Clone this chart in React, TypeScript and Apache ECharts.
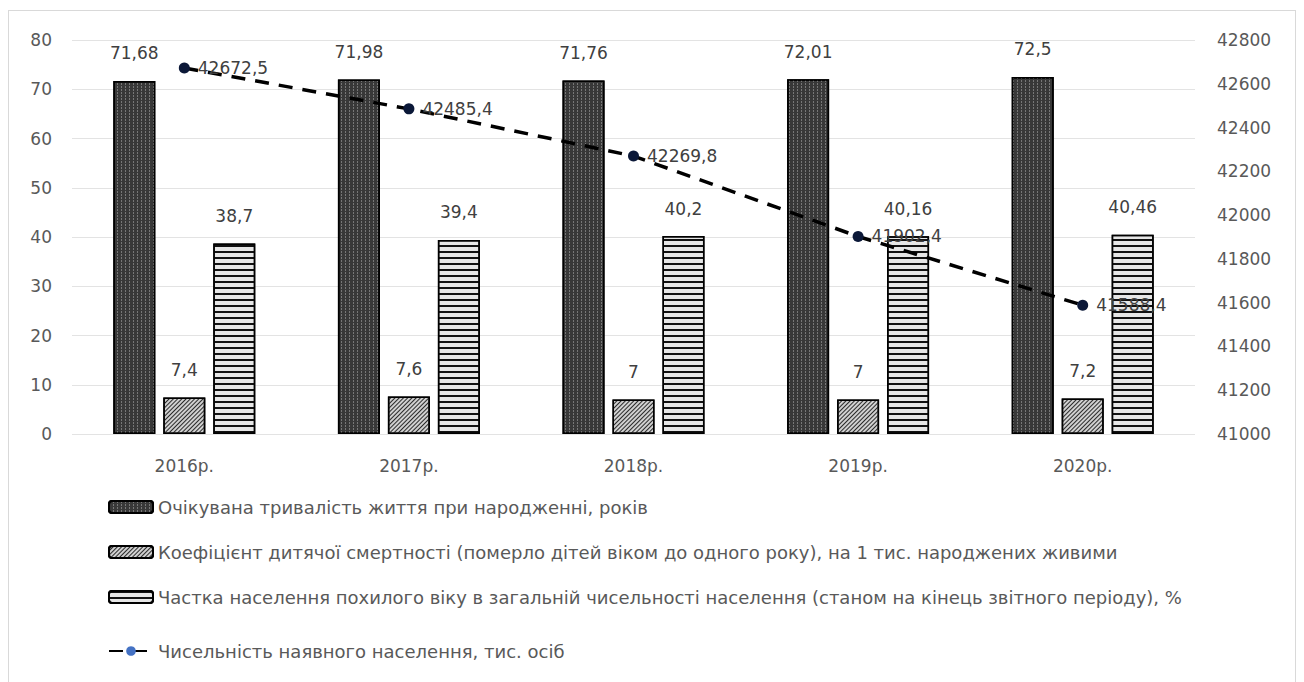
import React, { useEffect, useRef } from "react";
import * as echarts from "echarts";

const years = ["2016р.", "2017р.", "2018р.", "2019р.", "2020р."];
const lifeExpectancy = [71.68, 71.98, 71.76, 72.01, 72.5];
const infantMortality = [7.4, 7.6, 7, 7, 7.2];
const elderlyShare = [38.7, 39.4, 40.2, 40.16, 40.46];
const population = [42672.5, 42485.4, 42269.8, 41902.4, 41588.4];

const names = [
  "Очікувана тривалість життя при народженні, років",
  "Коефіцієнт дитячої смертності (померло дітей віком до одного року), на 1 тис. народжених живими",
  "Частка населення похилого віку в загальній чисельності населення (станом на кінець звітного періоду), %",
  "Чисельність наявного населення, тис. осіб",
];

const FONT = "DejaVu Sans";
const fmt = (v: number) => String(v).replace(".", ",");

export default function App() {
  const ref = useRef<HTMLDivElement>(null);

  useEffect(() => {
    if (!ref.current) return;
    const chart = echarts.init(ref.current, undefined, { renderer: "svg" });

    const barLabel = {
      show: true,
      position: "top" as const,
      distance: 19,
      color: "#404040",
      fontSize: 17,
      fontFamily: FONT,
      formatter: (p: any) => fmt(p.value),
    };

    const legendText = { color: "#595959", fontSize: 18, fontFamily: FONT, lineHeight: 18 };

    chart.setOption({
      animation: false,
      backgroundColor: "#fff",
      textStyle: { fontFamily: FONT },
      grid: { left: 63, right: 100, top: 29, height: 394 },
      legend: [
        {
          data: names.slice(0, 3),
          orient: "vertical",
          left: 99,
          top: 487,
          padding: 0,
          itemWidth: 44,
          itemHeight: 12,
          itemGap: 27,
          textStyle: legendText,
        },
        {
          data: [{ name: names[3], itemStyle: { color: "#4472c4" } }],
          left: 99,
          top: 631,
          padding: 0,
          itemWidth: 44,
          itemHeight: 12,
          textStyle: legendText,
        },
      ],
      xAxis: {
        type: "category",
        data: years,
        axisLine: { show: false },
        axisTick: { show: false },
        axisLabel: { color: "#595959", fontSize: 17, margin: 23, fontFamily: FONT },
      },
      yAxis: [
        {
          type: "value",
          min: 0,
          max: 80,
          interval: 10,
          axisLine: { show: false },
          axisTick: { show: false },
          axisLabel: { color: "#595959", fontSize: 17, margin: 20, fontFamily: FONT },
          splitLine: { lineStyle: { color: "#e3e3e3", width: 1 } },
        },
        {
          type: "value",
          min: 41000,
          max: 42800,
          interval: 200,
          axisLine: { show: false },
          axisTick: { show: false },
          axisLabel: {
            color: "#595959",
            fontSize: 17,
            margin: 22,
            fontFamily: FONT,
            formatter: (v: number) => String(v),
          },
          splitLine: { show: false },
        },
      ],
      series: [
        {
          name: names[0],
          type: "bar",
          data: lifeExpectancy,
          barWidth: 42,
          barGap: "19%",
          itemStyle: {
            color: "#383838",
            borderColor: "#000",
            borderWidth: 1.5,
            decal: {
              symbol: "rect",
              symbolSize: 1,
              color: "rgba(140,140,140,0.75)",
              dashArrayX: [1, 3],
              dashArrayY: [2, 1],
              rotation: 0,
            },
          },
          label: barLabel,
        },
        {
          name: names[1],
          type: "bar",
          data: infantMortality,
          barWidth: 42,
          itemStyle: {
            color: "#d0d0d0",
            borderColor: "#000",
            borderWidth: 1.5,
            decal: {
              symbol: "rect",
              symbolSize: 1,
              color: "#2a2a2a",
              dashArrayX: [1, 0],
              dashArrayY: [1, 2],
              rotation: -Math.PI / 4,
            },
          },
          label: barLabel,
        },
        {
          name: names[2],
          type: "bar",
          data: elderlyShare,
          barWidth: 42,
          itemStyle: {
            color: "#e6e6e6",
            borderColor: "#000",
            borderWidth: 1.5,
            decal: {
              symbol: "rect",
              symbolSize: 1,
              color: "#111",
              dashArrayX: [1, 0],
              dashArrayY: [1.5, 3.3],
              rotation: 0,
            },
          },
          label: barLabel,
        },
        {
          name: names[3],
          type: "line",
          yAxisIndex: 1,
          data: population,
          symbol: "circle",
          symbolSize: 11,
          itemStyle: { color: "#0b1838" },
          lineStyle: { color: "#000", width: 3.5, type: [14, 10] },
          label: {
            show: true,
            position: "right",
            distance: 8,
            color: "#404040",
            fontSize: 17,
            fontFamily: FONT,
            formatter: (p: any) => fmt(p.value),
          },
          z: 5,
        },
      ],
    });

    return () => chart.dispose();
  }, []);

  return (
    <div
      style={{
        width: 1288,
        height: 690,
        marginTop: 2,
        border: "1px solid #d9d9d9",
        boxSizing: "border-box",
        background: "#fff",
      }}
    >
      <div ref={ref} style={{ width: 1286, height: 688 }} />
    </div>
  );
}
